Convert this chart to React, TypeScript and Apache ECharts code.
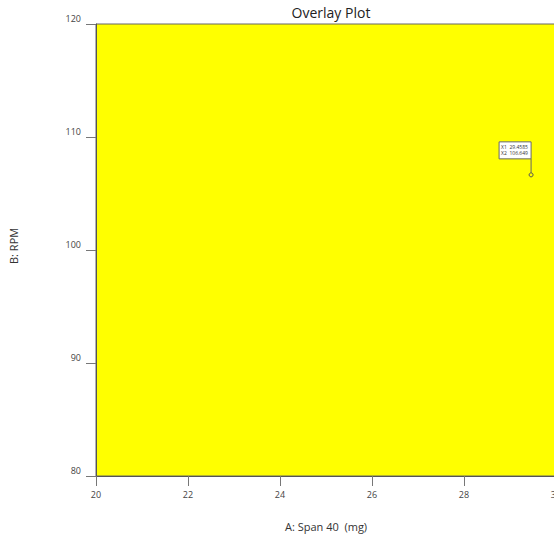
import React, { useEffect, useRef } from "react";
import * as echarts from "echarts";

const titleText = "Overlay Plot";
const xAxisName = "A: Span 40  (mg)";
const yAxisName = "B: RPM";
const xRange = [20, 30];
const yRange = [80, 120];
const xInterval = 2;
const yInterval = 10;
const flagPoint = [29.4585, 106.649];
const flagLabels = ["X1", "X2"];

export default function App() {
  const ref = useRef<HTMLDivElement>(null);
  useEffect(() => {
    if (!ref.current) return;
    const chart = echarts.init(ref.current, undefined, { renderer: "svg" });
    const font = "'Open Sans', 'Noto Sans', sans-serif";
    chart.setOption({
      animation: false,
      backgroundColor: "#ffffff",
      title: {
        text: titleText,
        left: 326,
        top: 0,
        textAlign: "center",
        textStyle: { fontFamily: font, fontSize: 14, fontWeight: "normal", color: "#222" },
      },
      grid: {
        left: 96,
        top: 24,
        width: 460,
        height: 452,
        show: true,
        containLabel: false,
        outerBoundsMode: "none",
        backgroundColor: "#ffff00",
        borderColor: "#666",
        borderWidth: 1,
      },
      xAxis: {
        type: "value",
        min: xRange[0],
        max: xRange[1],
        interval: xInterval,
        splitLine: { show: false },
        axisLine: { show: true, onZero: false, lineStyle: { color: "#555", width: 1 } },
        axisTick: { show: true, length: 10, lineStyle: { color: "#777" } },
        axisLabel: { fontFamily: font, fontSize: 9, color: "#444", margin: 14 },
      },
      yAxis: {
        type: "value",
        min: yRange[0],
        max: yRange[1],
        interval: yInterval,
        splitLine: { show: false },
        axisLine: { show: true, onZero: false, lineStyle: { color: "#555", width: 1 } },
        axisTick: { show: true, length: 10, lineStyle: { color: "#777" } },
        axisLabel: {
          fontFamily: font,
          fontSize: 9,
          color: "#444",
          margin: 15,
          verticalAlign: "bottom",
          padding: [0, 0, 1, 0],
        },
      },
      graphic: [
        {
          type: "text",
          left: 285,
          top: 521,
          style: { text: xAxisName, fontFamily: font, fontSize: 11, fill: "#333" },
        },
        {
          type: "text",
          x: 8,
          y: 264,
          rotation: Math.PI / 2,
          style: { text: yAxisName, fontFamily: font, fontSize: 11, fill: "#333" },
        },
      ],
      series: [
        {
          type: "custom",
          coordinateSystem: "cartesian2d",
          clip: false,
          data: [flagPoint],
          renderItem: (params: any, api: any) => {
            const xv = api.value(0);
            const yv = api.value(1);
            const p = api.coord([xv, yv]);
            const bw = 32;
            const bh = 17;
            const bx = p[0] - bw;
            const by = p[1] - 16 - bh;
            return {
              type: "group",
              children: [
                {
                  type: "line",
                  shape: { x1: p[0], y1: p[1] - 2, x2: p[0], y2: p[1] - 16 },
                  style: { stroke: "#666", lineWidth: 1 },
                },
                {
                  type: "rect",
                  shape: { x: bx, y: by, width: bw, height: bh },
                  style: { fill: "#ffffff", stroke: "#666", lineWidth: 1 },
                },
                {
                  type: "text",
                  x: bx + 2,
                  y: by + 2.5,
                  style: {
                    text:
                      flagLabels[0] + "  " + xv.toFixed(4) + "\n" + flagLabels[1] + "  " + yv.toFixed(3),
                    fontFamily: font,
                    fontSize: 5,
                    lineHeight: 6,
                    fill: "#333",
                  },
                },
                {
                  type: "circle",
                  shape: { cx: p[0], cy: p[1], r: 2 },
                  style: { fill: "#ffff00", stroke: "#555", lineWidth: 1 },
                },
              ],
            };
          },
        },
      ],
    });
    return () => chart.dispose();
  }, []);
  return (
    <div
      ref={ref}
      style={{ position: "absolute", left: 0, top: 0, width: 554, height: 538, overflow: "hidden" }}
    />
  );
}
